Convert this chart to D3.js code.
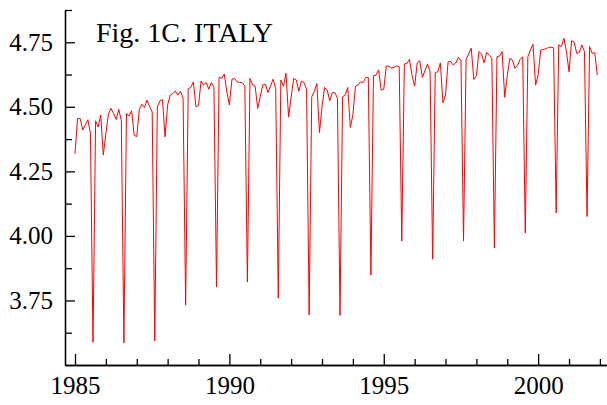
<!DOCTYPE html>
<meta charset="UTF-8">
<head>
    <title>Fig. 1C. ITALY</title>
</head>
<style>
    body {
        margin: 0;
        background: #fff;
    }

    .axis text {
        font-family: "Liberation Serif", "Times New Roman", serif;
        font-size: 25px;
        fill: #000;
    }

    .axis path,
    .axis line {
        stroke: #000;
        stroke-width: 1.3px;
    }

    .title {
        font-family: "Liberation Serif", "Times New Roman", serif;
        font-size: 28px;
    }
</style>
<body>
    <div id="chart"></div>

    <script src="https://d3js.org/d3.v7.min.js"></script>
    <script type="text/javascript">

        // monthly series, Jan 1985 .. Dec 2001 (one row per year)
        var startYear = 1985;
        var values = [
            4.319, 4.455, 4.455, 4.410, 4.430, 4.450, 4.397, 3.588, 4.446, 4.422, 4.468, 4.313,
            4.397, 4.472, 4.494, 4.474, 4.451, 4.490, 4.448, 3.586, 4.474, 4.464, 4.485, 4.390,
            4.384, 4.490, 4.510, 4.497, 4.526, 4.500, 4.480, 3.593, 4.500, 4.523, 4.528, 4.384,
            4.507, 4.545, 4.552, 4.561, 4.545, 4.560, 4.535, 3.732, 4.570, 4.575, 4.597, 4.500,
            4.505, 4.600, 4.585, 4.594, 4.568, 4.594, 4.575, 3.802, 4.614, 4.610, 4.627, 4.560,
            4.507, 4.607, 4.610, 4.597, 4.594, 4.594, 4.580, 3.821, 4.610, 4.585, 4.580, 4.494,
            4.540, 4.585, 4.588, 4.555, 4.580, 4.607, 4.570, 3.759, 4.604, 4.580, 4.630, 4.460,
            4.537, 4.610, 4.604, 4.560, 4.600, 4.594, 4.568, 3.694, 4.539, 4.560, 4.590, 4.400,
            4.500, 4.575, 4.565, 4.524, 4.555, 4.555, 4.533, 3.692, 4.539, 4.545, 4.575, 4.420,
            4.468, 4.580, 4.585, 4.597, 4.594, 4.614, 4.614, 3.848, 4.620, 4.623, 4.643, 4.565,
            4.568, 4.658, 4.658, 4.650, 4.653, 4.658, 4.656, 3.980, 4.666, 4.668, 4.684, 4.620,
            4.580, 4.670, 4.679, 4.614, 4.640, 4.666, 4.636, 3.910, 4.632, 4.636, 4.670, 4.516,
            4.545, 4.675, 4.675, 4.662, 4.670, 4.692, 4.679, 3.980, 4.684, 4.705, 4.727, 4.606,
            4.620, 4.714, 4.705, 4.670, 4.710, 4.700, 4.688, 3.953, 4.694, 4.697, 4.714, 4.537,
            4.620, 4.688, 4.681, 4.649, 4.660, 4.684, 4.694, 4.011, 4.694, 4.720, 4.743, 4.584,
            4.623, 4.720, 4.722, 4.725, 4.730, 4.731, 4.728, 4.089, 4.740, 4.733, 4.765, 4.714,
            4.636, 4.756, 4.750, 4.707, 4.710, 4.740, 4.714, 4.075, 4.733, 4.707, 4.710, 4.623
        ];

        var yMajor = [3.75, 4.00, 4.25, 4.50, 4.75];
        var yMinor = [3.625, 3.875, 4.125, 4.375, 4.625, 4.875];
        var xMajor = [1985, 1990, 1995, 2000];
        var xMinor = [1986, 1987, 1988, 1989, 1991, 1992, 1993, 1994, 1996, 1997, 1998, 1999, 2001, 2002];
        var titleText = "Fig. 1C. ITALY";

        var w = 607;
        var h = 405;
        // plot box (window.top is read-only, so keep these names apart)
        var padL = 65, padB = 365, padT = 10, padR = 607;

        var x = d3.scaleLinear().domain([1984.676, 2002.23]).range([padL, padR]);
        var y = d3.scaleLinear().domain([3.5, 4.875]).range([padB, padT]);

        var svg = d3.select("#chart")
            .append("svg")
            .attr("width", w)
            .attr("height", h);

        // minor ticks first, no labels
        svg.append("g")
            .attr("class", "axis")
            .attr("transform", "translate(" + padL + ",0)")
            .call(d3.axisLeft(y).tickValues(yMinor).tickSize(-7).tickSizeOuter(0).tickFormat(""));

        svg.append("g")
            .attr("class", "axis")
            .attr("transform", "translate(0," + padB + ")")
            .call(d3.axisBottom(x).tickValues(xMinor).tickSize(-6).tickSizeOuter(0).tickFormat(""));

        // major ticks with labels
        svg.append("g")
            .attr("class", "axis")
            .attr("transform", "translate(" + padL + ",0)")
            .call(d3.axisLeft(y).tickValues(yMajor).tickSize(-10).tickSizeOuter(0)
                .tickPadding(12).tickFormat(d3.format(".2f")));

        svg.append("g")
            .attr("class", "axis")
            .attr("transform", "translate(0," + padB + ")")
            .call(d3.axisBottom(x).tickValues(xMajor).tickSize(-11).tickSizeOuter(0)
                .tickPadding(11).tickFormat(d3.format("d")));

        var line = d3.line()
            .x(function (d, i) { return x(startYear + i / 12); })
            .y(function (d) { return y(d); });

        svg.append("path")
            .datum(values)
            .attr("fill", "none")
            .attr("stroke", "#ff0000")
            .attr("stroke-width", 1)
            .attr("stroke-linejoin", "round")
            .attr("d", line);

        svg.append("text")
            .attr("class", "title")
            .attr("x", 96)
            .attr("y", 41.5)
            .text(titleText);

    </script>
</body>
</html>
